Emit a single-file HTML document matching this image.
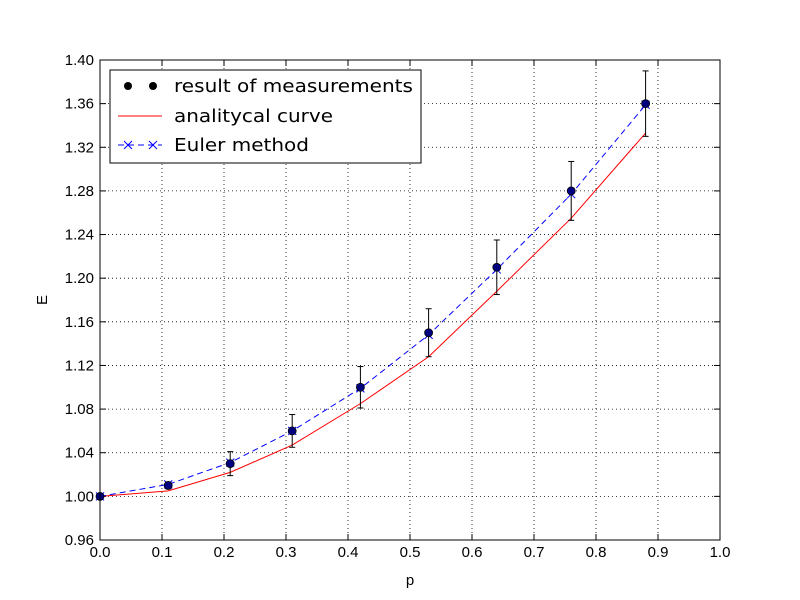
<!DOCTYPE html>
<html><head><meta charset="utf-8"><style>
body{margin:0;background:#fff}
svg{display:block;font-family:"Liberation Sans",sans-serif}
.lg{font-family:"DejaVu Sans","Liberation Sans",sans-serif}
</style></head><body>
<svg id="chart" width="800" height="600" viewBox="0 0 800 600">
<rect width="800" height="600" fill="#fff"/>
<g id="grid"></g><g id="ticks"></g><g id="series"></g>
<rect x="100" y="60" width="620" height="480" fill="none" stroke="#000" stroke-width="1"/>
<text x="410" y="585" font-size="15" text-anchor="middle">p</text>
<text x="47" y="300" font-size="15" text-anchor="middle" transform="rotate(-90 47 300)">E</text>
<g>
<rect x="110" y="70" width="311" height="93" fill="#fff" stroke="#000"/>
<g><circle cx="128" cy="86" r="4" fill="#000"/><circle cx="153" cy="86" r="4" fill="#000"/><text class="lg" x="174" y="92" font-size="18" textLength="239" lengthAdjust="spacingAndGlyphs">result of measurements</text></g>
<g><line x1="118" y1="116" x2="162" y2="116" stroke="red"/><text class="lg" x="174" y="122" font-size="18" textLength="159" lengthAdjust="spacingAndGlyphs">analitycal curve</text></g>
<g><line x1="118" y1="145" x2="162" y2="145" stroke="blue" stroke-dasharray="6,4"/><path d="M124 141l8 8M132 141l-8 8M149 141l8 8M157 141l-8 8" stroke="blue"/><text class="lg" x="174" y="151" font-size="18" textLength="135" lengthAdjust="spacingAndGlyphs">Euler method</text></g>
</g>
</svg>
<script>
const pValues=[0,0.11,0.21,0.31,0.42,0.53,0.64,0.76,0.88];
const measured=[1.00,1.01,1.03,1.06,1.10,1.15,1.21,1.28,1.36];
const errors=[0,0.003,0.011,0.015,0.019,0.022,0.025,0.027,0.03];
const analytical=[1.0,1.005,1.022,1.047,1.085,1.128,1.188,1.255,1.333];
const euler=[1.0,1.011,1.031,1.06,1.099,1.148,1.208,1.277,1.359];
const xTicks=[0,0.1,0.2,0.3,0.4,0.5,0.6,0.7,0.8,0.9,1.0];
const yTicks=[0.96,1.00,1.04,1.08,1.12,1.16,1.20,1.24,1.28,1.32,1.36,1.40];
const NS="http://www.w3.org/2000/svg";
const X=v=>100+(v-0)/(1-0)*620;
const Y=v=>540-(v-0.96)/(0.44)*480;
function mk(t,a,p){const e=document.createElementNS(NS,t);for(const k in a)e.setAttribute(k,a[k]);p.appendChild(e);return e;}
const grid=document.getElementById('grid'),ticks=document.getElementById('ticks'),ser=document.getElementById('series');
xTicks.forEach(v=>{const x=X(v);
 if(v>0&&v<1){const g=mk('line',{x1:x,y1:60,x2:x,y2:540,stroke:'#000','stroke-dasharray':'1,3','stroke-width':0.8},grid);}
 mk('line',{x1:x,y1:540,x2:x,y2:534,stroke:'#000'},ticks);mk('line',{x1:x,y1:60,x2:x,y2:66,stroke:'#000'},ticks);
 const t=mk('text',{x:x,y:557,'font-size':15,'text-anchor':'middle'},ticks);t.textContent=v.toFixed(1);
 
 });
yTicks.forEach(v=>{const y=Y(v);
 if(v>0.961&&v<1.399){const g=mk('line',{x1:100,y1:y,x2:720,y2:y,stroke:'#000','stroke-dasharray':'1,3','stroke-width':0.8},grid);}
 mk('line',{x1:100,y1:y,x2:106,y2:y,stroke:'#000'},ticks);mk('line',{x1:720,y1:y,x2:714,y2:y,stroke:'#000'},ticks);
 const t=mk('text',{x:94,y:y+5,'font-size':15,'text-anchor':'end'},ticks);t.textContent=v.toFixed(2);
 
 });
const an=mk('polyline',{points:pValues.map((p,i)=>X(p)+','+Y(analytical[i])).join(' '),fill:'none',stroke:'red','stroke-width':1},ser);


const eu=mk('polyline',{points:pValues.map((p,i)=>X(p)+','+Y(euler[i])).join(' '),fill:'none',stroke:'blue','stroke-width':1,'stroke-dasharray':'6,4'},ser);


pValues.forEach((p,i)=>{const x=X(p),y=Y(euler[i]);
 const m=mk('path',{d:`M${x-4} ${y-4}l8 8M${x+4} ${y-4}l-8 8`,stroke:'blue'},ser);
 
 });
pValues.forEach((p,i)=>{const x=X(p),y1=Y(measured[i]+errors[i]),y2=Y(measured[i]-errors[i]);
 const g=mk('g',{},ser);
 
 
 mk('line',{x1:x,y1:y1,x2:x,y2:y2,stroke:'#000'},g);
 mk('line',{x1:x-3,y1:y1,x2:x+3,y2:y1,stroke:'#000'},g);
 mk('line',{x1:x-3,y1:y2,x2:x+3,y2:y2,stroke:'#000'},g);
 const c=mk('circle',{cx:x,cy:Y(measured[i]),r:4,fill:'#000080',stroke:'#000','stroke-width':0.8},ser);
 
 });
</script>
</body></html>
